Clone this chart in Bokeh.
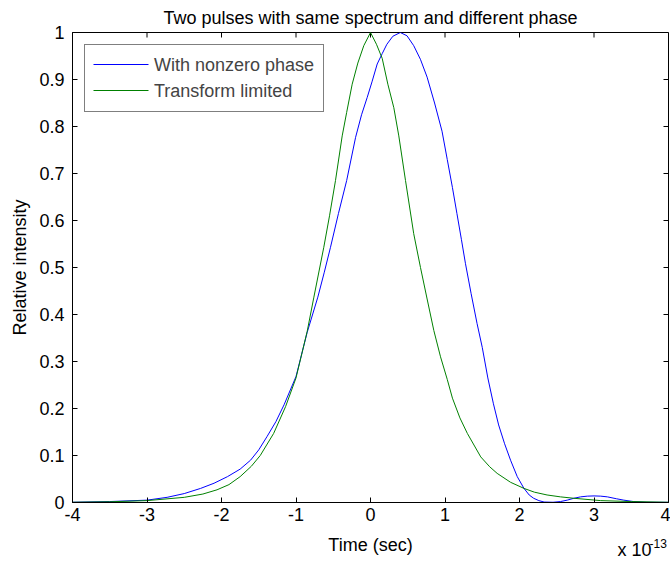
from bokeh.plotting import figure
from bokeh.layouts import column
from bokeh.models import FixedTicker, Range1d, Legend, LegendItem
from bokeh.core.properties import value
from bokeh.embed import file_html
from bokeh.resources import INLINE

# Time in units of 1e-13 s
t_green = [-4.0, -3.5, -3.0, -2.5, -2.25, -2.06, -1.9, -1.75, -1.6, -1.48, -1.30, -1.14,
           -1.0, -0.85, -0.76, -0.627, -0.55, -0.47, -0.38, -0.32, -0.246, -0.17, -0.09, 0.0,
           0.08, 0.157, 0.233, 0.313, 0.38, 0.47, 0.58, 0.671, 0.76, 0.85, 0.94, 1.03,
           1.10, 1.20, 1.30, 1.48, 1.60, 1.70, 1.88, 2.06, 2.2, 2.37, 2.55, 2.73, 3.09,
           3.5, 4.0]
y_green = [0.0005, 0.0015, 0.004, 0.011, 0.018, 0.027, 0.038, 0.055, 0.077, 0.100, 0.147, 0.204,
           0.265, 0.364, 0.437, 0.543, 0.61, 0.685, 0.78, 0.83, 0.89, 0.935, 0.972, 1.0,
           0.975, 0.945, 0.89, 0.84, 0.78, 0.685, 0.572, 0.50, 0.433, 0.366, 0.31, 0.262,
           0.222, 0.18, 0.147, 0.097, 0.076, 0.062, 0.043, 0.030, 0.022, 0.016, 0.012, 0.009, 0.004,
           0.002, 0.0005]

t_blue = [-4.0, -3.5, -3.0, -2.73, -2.5, -2.28, -2.1, -1.92, -1.75, -1.61, -1.5, -1.39,
          -1.27, -1.16, -1.0, -0.85, -0.707, -0.62, -0.537, -0.43, -0.32, -0.2, -0.12, -0.044,
          0.02, 0.09, 0.157, 0.22, 0.30, 0.40, 0.49, 0.58, 0.67, 0.76, 0.86, 0.96,
          1.03, 1.10, 1.16, 1.22, 1.275, 1.35, 1.43, 1.5, 1.575, 1.65, 1.72, 1.80,
          1.88, 1.97, 2.06, 2.13, 2.19, 2.26, 2.33, 2.45, 2.55, 2.64, 2.73, 2.82,
          2.91, 3.0, 3.09, 3.18, 3.3, 3.4, 3.53, 3.7, 4.0]
y_blue = [0.0005, 0.002, 0.005, 0.011, 0.019, 0.030, 0.041, 0.055, 0.071, 0.09, 0.112, 0.14,
          0.172, 0.208, 0.268, 0.362, 0.437, 0.49, 0.543, 0.615, 0.685, 0.777, 0.825, 0.862,
          0.895, 0.933, 0.955, 0.975, 0.992, 1.0, 0.993, 0.972, 0.943, 0.905, 0.85, 0.79,
          0.73, 0.67, 0.615, 0.56, 0.508, 0.445, 0.381, 0.33, 0.265, 0.21, 0.165, 0.125,
          0.09, 0.055, 0.03, 0.016, 0.009, 0.004, 0.001, 0.0005, 0.002, 0.005, 0.009, 0.012,
          0.0135, 0.014, 0.0135, 0.012, 0.008, 0.005, 0.002, 0.0005, 0.0003]

series_labels = ["With nonzero phase", "Transform limited"]
series_colors = ["#0000ff", "#008000"]

x_ticks = [-4, -3, -2, -1, 0, 1, 2, 3, 4]
x_tick_labels = ["-4", "-3", "-2", "-1", "0", "1", "2", "3", "4"]
y_ticks = [0, 0.1, 0.2, 0.3, 0.4, 0.5, 0.6, 0.7, 0.8, 0.9, 1]
y_tick_labels = ["0", "0.1", "0.2", "0.3", "0.4", "0.5", "0.6", "0.7", "0.8", "0.9", "1"]
title_text = "Two pulses with same spectrum and different phase"
x_label = "Time (sec)"
y_label = "Relative intensity"
multiplier_base = "x 10"
multiplier_exp = "-13"

FONT = "Liberation Sans"
FS = "18px"
W = 670
MB_L, MB_R, MB_T = 72, 2, 32
FRAME_W, FRAME_H = 596, 470
MAIN_H = 530
FOOT_H = 32
TICK = 5  # px

x_range = Range1d(x_ticks[0], x_ticks[-1])
p = figure(width=W, height=MAIN_H, output_backend="svg", toolbar_location=None,
           x_range=x_range, y_range=Range1d(y_ticks[0], y_ticks[-1]),
           min_border_left=MB_L, min_border_right=MB_R, min_border_top=MB_T,
           min_border_bottom=MAIN_H - MB_T - FRAME_H,
           y_axis_label=y_label, title=title_text)
p.title.align = "center"
p.title.text_font = FONT
p.title.text_font_size = FS
p.title.text_font_style = "normal"
p.title.text_color = "black"
p.title.standoff = 10

p.xgrid.visible = False
p.ygrid.visible = False
p.outline_line_color = "black"
p.outline_line_width = 1
p.outline_line_alpha = 1.0

for ax in p.xaxis + p.yaxis:
    ax.major_tick_in = TICK
    ax.major_tick_out = 0
    ax.minor_tick_in = 0
    ax.minor_tick_out = 0
    ax.axis_line_color = "black"
    ax.major_tick_line_color = "black"
    ax.major_label_text_font = FONT
    ax.major_label_text_font_size = FS
    ax.major_label_text_color = "black"
    ax.axis_label_text_font = FONT
    ax.axis_label_text_font_size = FS
    ax.axis_label_text_font_style = "normal"
    ax.axis_label_text_color = "black"

p.xaxis.ticker = FixedTicker(ticks=x_ticks)
p.yaxis.ticker = FixedTicker(ticks=y_ticks)
p.xaxis.major_label_overrides = {t: s for t, s in zip(x_ticks, x_tick_labels)}
p.yaxis.major_label_overrides = {t: s for t, s in zip(y_ticks, y_tick_labels)}
p.xaxis.major_label_standoff = 5
p.yaxis.major_label_standoff = 8
p.yaxis.axis_label_standoff = 6

# pixel <-> data helpers for the main frame
xr0, xr1 = x_ticks[0], x_ticks[-1]
yr0, yr1 = y_ticks[0], y_ticks[-1]


def px_to_x(px):
    return xr0 + (px - MB_L) / FRAME_W * (xr1 - xr0)


def py_to_y(py):
    return yr1 - (py - MB_T) / FRAME_H * (yr1 - yr0)


# inward ticks on top and right edges (MATLAB box style)
dy = TICK / FRAME_H * (yr1 - yr0)
dx = TICK / FRAME_W * (xr1 - xr0)
p.segment(x0=x_ticks, y0=[yr1] * len(x_ticks), x1=x_ticks, y1=[yr1 - dy] * len(x_ticks),
          line_color="black", line_width=1)
p.segment(x0=[xr1] * len(y_ticks), y0=y_ticks, x1=[xr1 - dx] * len(y_ticks), y1=y_ticks,
          line_color="black", line_width=1)

p.line(t_blue, y_blue, line_color=series_colors[0], line_width=1)
p.line(t_green, y_green, line_color=series_colors[1], line_width=1)

# legend: box and labels from Bokeh's Legend (transparent fill), line samples as segments
L_MARGIN, L_PAD, L_SPACING, L_GLYPH_W, L_ROW_H, L_STANDOFF = 12, 9, 4, 55, 22, 5
dummies = [p.line([], [], line_alpha=0) for _ in series_labels]
legend = Legend(items=[LegendItem(label=lab, renderers=[d]) for lab, d in zip(series_labels, dummies)],
                location="top_left")
legend.margin = L_MARGIN
legend.padding = L_PAD
legend.spacing = L_SPACING
legend.glyph_width = L_GLYPH_W
legend.glyph_height = L_ROW_H
legend.label_height = L_ROW_H
legend.label_standoff = L_STANDOFF
legend.label_text_font = FONT
legend.label_text_font_size = FS
legend.border_line_color = "black"
legend.border_line_width = 1
legend.background_fill_alpha = 0.0
p.add_layout(legend, "center")

g_x0 = MB_L + L_MARGIN + L_PAD
g_x1 = g_x0 + L_GLYPH_W
rows_py = [MB_T + L_MARGIN + L_PAD + L_ROW_H / 2 + i * (L_ROW_H + L_SPACING)
           for i in range(len(series_labels))]
for py, col in zip(rows_py, series_colors):
    p.line([px_to_x(g_x0), px_to_x(g_x1)], [py_to_y(py), py_to_y(py)],
           line_color=col, line_width=1)

# footer strip: x-axis label and the "x 10^-13" multiplier
f = figure(width=W, height=FOOT_H, output_backend="svg", toolbar_location=None,
           x_range=x_range, y_range=Range1d(0, FOOT_H),
           min_border_left=MB_L, min_border_right=MB_R, min_border_top=0, min_border_bottom=0)
f.axis.visible = False
f.grid.visible = False
f.outline_line_color = None


def fy(py_abs):
    # absolute page pixel row -> footer data y (0 at bottom)
    return FOOT_H - (py_abs - MAIN_H)


f.text(x=[(xr0 + xr1) / 2], y=[fy(544)], text=[x_label], text_align="center",
       text_baseline="middle", text_font=value(FONT), text_font_size=value(FS), text_color="black")
f.text(x=[px_to_x(617)], y=[fy(549)], text=[multiplier_base], text_align="left",
       text_baseline="middle", text_font=value(FONT), text_font_size=value(FS),
       text_color="black")
f.text(x=[px_to_x(649)], y=[fy(543)], text=[multiplier_exp], text_align="left",
       text_baseline="middle", text_font=value(FONT), text_font_size=value("12px"),
       text_color="black")

layout = column(p, f, spacing=0)
open("out.html", "w").write(file_html(layout, INLINE))
